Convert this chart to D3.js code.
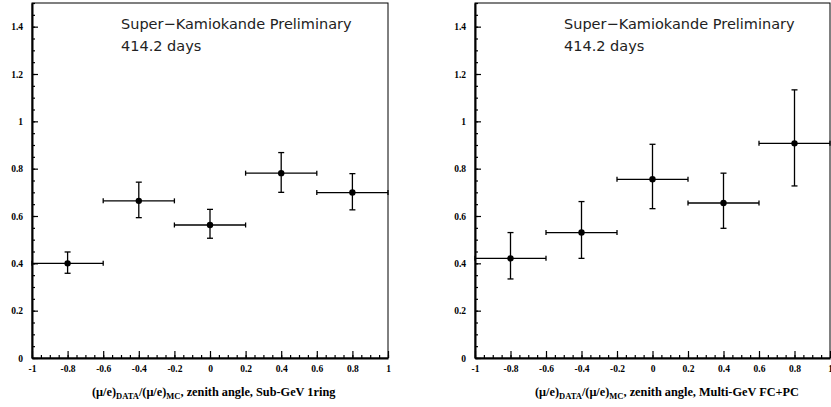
<!DOCTYPE html>
<meta charset="utf-8">
<style>
body { margin: 0; background: #fff; }
.tick text { font: bold 9.5px "Liberation Serif", "Times New Roman", serif; fill: #000; }
.tick line { stroke: #000; stroke-width: 1.2; }
.domain { stroke: #000; stroke-width: 2; }
.banner { font: 14.5px "DejaVu Sans", sans-serif; fill: #222; }
.xtitle { font: bold 12.3px "Liberation Serif", "Times New Roman", serif; fill: #000; }
</style>
<svg width="831" height="407"></svg>
<script src="https://d3js.org/d3.v7.min.js"></script>
<script>

// bin centres (cos zenith) and half width
var zenith = [-0.8, -0.4, 0, 0.4, 0.8];
var binHalf = 0.2;

// Sub-GeV 1ring double ratio
var subGevRatio = [0.400, 0.664, 0.562, 0.781, 0.699];
var subGevUpper = [0.448, 0.743, 0.628, 0.868, 0.779];
var subGevLower = [0.358, 0.593, 0.506, 0.700, 0.626];

// Multi-GeV FC+PC double ratio
var multiGevRatio = [0.421, 0.530, 0.755, 0.655, 0.907];
var multiGevUpper = [0.530, 0.661, 0.903, 0.781, 1.133];
var multiGevLower = [0.334, 0.421, 0.631, 0.548, 0.727];

var xTicks = [-1, -0.8, -0.6, -0.4, -0.2, 0, 0.2, 0.4, 0.6, 0.8, 1];
var yTicks = [0, 0.2, 0.4, 0.6, 0.8, 1, 1.2, 1.4];
var minorStep = 0.05;

var panels = [
  { left: 32, right: 388, ratio: subGevRatio, upper: subGevUpper, lower: subGevLower, sample: "Sub-GeV 1ring" },
  { left: 475, right: 830, ratio: multiGevRatio, upper: multiGevUpper, lower: multiGevLower, sample: "Multi-GeV FC+PC" }
];

var svg = d3.select("svg");
var yBottom = 358, yTop = 3;

function minorTicks(lo, hi) {
  var out = [];
  for (var i = 0; lo + i * minorStep <= hi + 1e-9; i++) out.push(+(lo + i * minorStep).toFixed(2));
  return out;
}

panels.forEach(function(p) {
  var x = d3.scaleLinear().domain([-1, 1]).range([p.left, p.right]);
  var y = d3.scaleLinear().domain([0, 1.5]).range([yBottom, yTop]);
  var g = svg.append("g");

  // frame
  g.append("rect")
    .attr("x", x(-1)).attr("y", y(1.5))
    .attr("width", x(1) - x(-1)).attr("height", y(0) - y(1.5))
    .attr("fill", "none").attr("stroke", "#000").attr("stroke-width", 1);

  // minor ticks
  g.append("g").attr("transform", "translate(" + x(-1) + ",0)")
    .call(d3.axisLeft(y).tickValues(minorTicks(0, 1.5)).tickSize(-3).tickFormat(""))
    .select(".domain").remove();
  g.append("g").attr("transform", "translate(0," + y(0) + ")")
    .call(d3.axisBottom(x).tickValues(minorTicks(-1, 1)).tickSize(-3).tickFormat(""))
    .select(".domain").remove();

  // major axes
  g.append("g").attr("transform", "translate(" + x(-1) + ",0)")
    .call(d3.axisLeft(y).tickValues(yTicks).tickSize(-6).tickSizeOuter(0).tickPadding(9)
      .tickFormat(function(d) { return String(d); }));
  g.append("g").attr("transform", "translate(0," + y(0) + ")")
    .call(d3.axisBottom(x).tickValues(xTicks).tickSize(-7).tickSizeOuter(0).tickPadding(7)
      .tickFormat(function(d) { return String(d); }));

  // error bars
  var pts = zenith.map(function(z, i) {
    return { z: z, v: p.ratio[i], hi: p.upper[i], lo: p.lower[i] };
  });
  var eb = g.append("g").attr("stroke", "#000").attr("stroke-width", 1.3);
  pts.forEach(function(d) {
    eb.append("line").attr("x1", x(d.z - binHalf)).attr("x2", x(d.z + binHalf))
      .attr("y1", y(d.v)).attr("y2", y(d.v));
    eb.append("line").attr("x1", x(d.z)).attr("x2", x(d.z))
      .attr("y1", y(d.hi)).attr("y2", y(d.lo));
    [d.z - binHalf, d.z + binHalf].forEach(function(e) {
      eb.append("line").attr("x1", x(e)).attr("x2", x(e))
        .attr("y1", y(d.v) - 2.5).attr("y2", y(d.v) + 2.5);
    });
    [d.hi, d.lo].forEach(function(e) {
      eb.append("line").attr("x1", x(d.z) - 3).attr("x2", x(d.z) + 3)
        .attr("y1", y(e)).attr("y2", y(e));
    });
  });
  g.selectAll("circle.pt").data(pts).enter().append("circle")
    .attr("class", "pt")
    .attr("cx", function(d) { return x(d.z); })
    .attr("cy", function(d) { return y(d.v); })
    .attr("r", 3.2).attr("fill", "#000");

  // banner
  g.append("text").attr("class", "banner")
    .attr("x", p.left + 89).attr("y", 28.5)
    .text("Super\u2212Kamiokande Preliminary");
  g.append("text").attr("class", "banner")
    .attr("x", p.left + 89).attr("y", 51)
    .text("414.2 days");

  // x title
  var t = g.append("text").attr("class", "xtitle")
    .attr("x", p.left + 60).attr("y", 396);
  t.append("tspan").text("(\u03bc/e)");
  t.append("tspan").attr("dy", 3).style("font-size", "8.5px").text("DATA");
  t.append("tspan").attr("dy", -3).text("/(\u03bc/e)");
  t.append("tspan").attr("dy", 3).style("font-size", "8.5px").text("MC");
  t.append("tspan").attr("dy", -3).text(", zenith angle, " + p.sample);
});

</script>
